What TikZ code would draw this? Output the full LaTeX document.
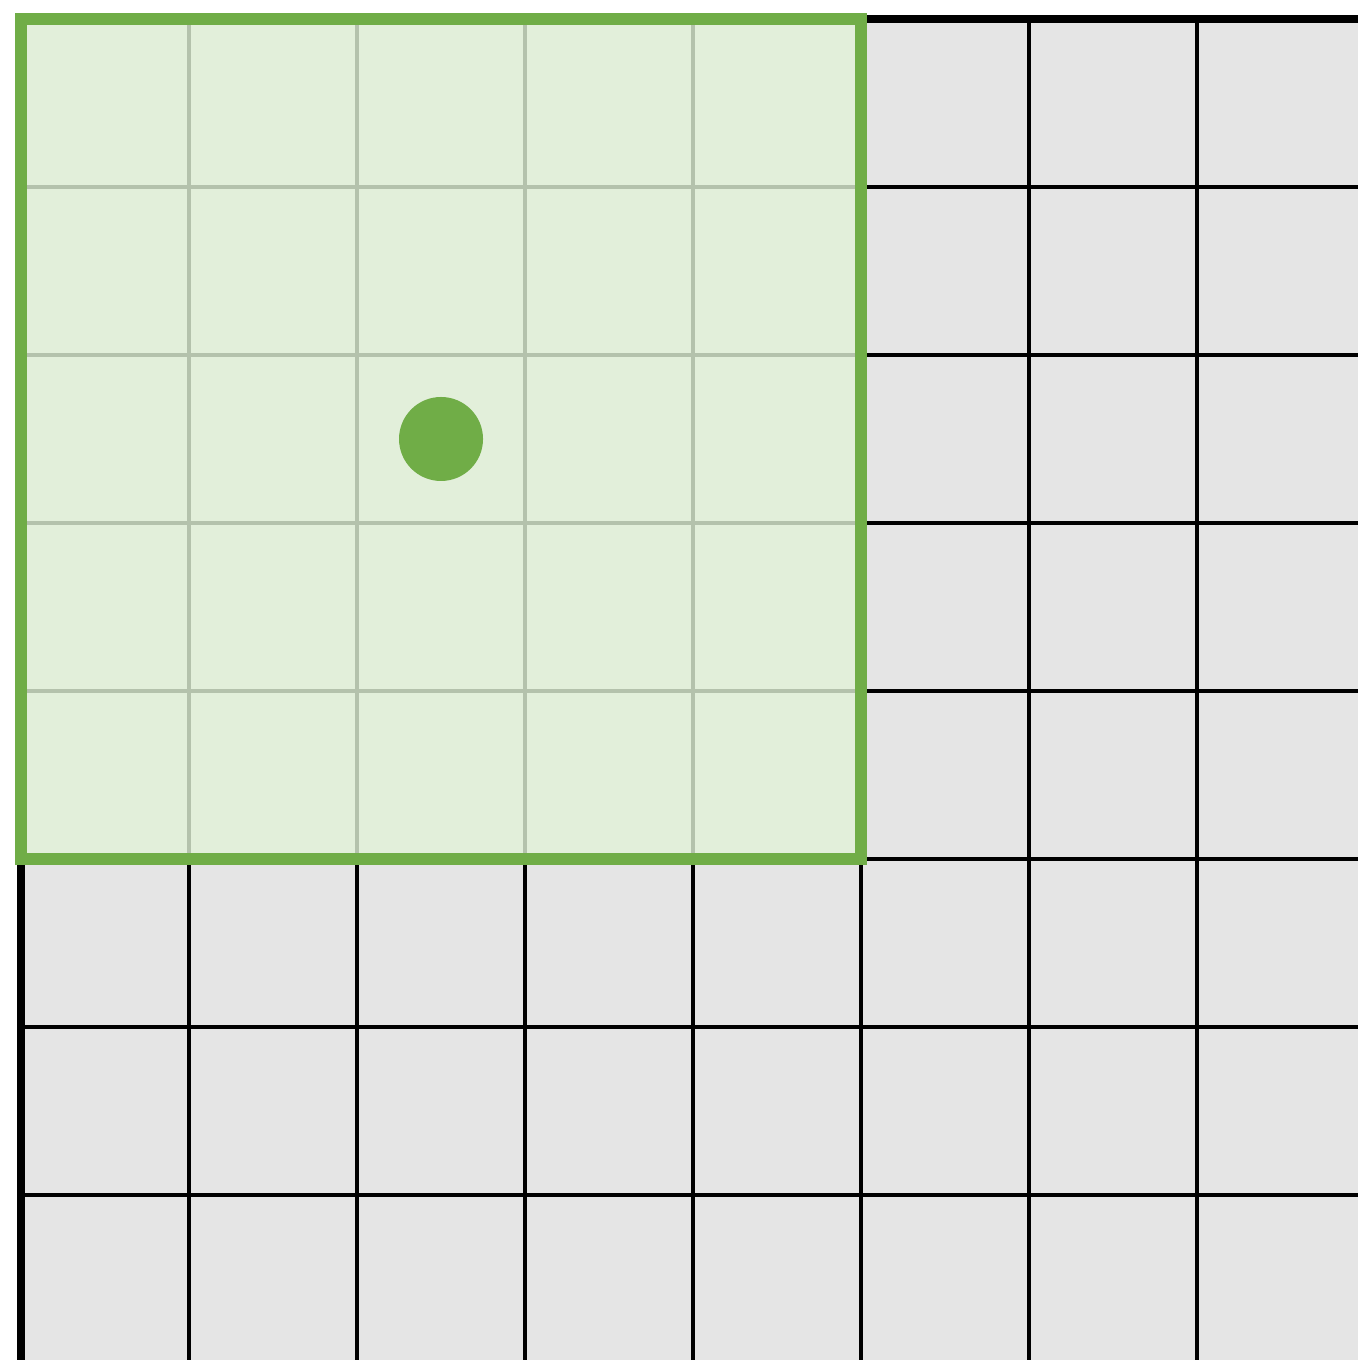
\documentclass[tikz,border=0pt]{standalone}
\definecolor{cgray}{HTML}{E5E5E5}
\definecolor{cgreen}{HTML}{70AD47}
\definecolor{clightgreen}{HTML}{E2EFDA}
\definecolor{cgridgreen}{HTML}{B4C2AC}
\begin{document}
\begin{tikzpicture}[x=1cm,y=-1cm,
    gridline/.style={line width=0.7pt},
    windowline/.style={cgridgreen,line width=0.7pt}]
  \useasboundingbox (-0.125,-0.113) rectangle (7.958,7.982);
  \clip (-0.125,-0.113) rectangle (7.958,7.982);
  % cells
  \fill[cgray] (0,0) rectangle (8.5,8.5);
  \foreach \i in {1,...,8}
    {\draw[gridline] (\i,0) -- (\i,8.5);
     \draw[gridline] (0,\i) -- (8.5,\i);}
  % border
  \draw[line width=1.5pt] (0,8.5) -- (0,0) -- (8.5,0);
  % window
  \fill[clightgreen] (0,0) rectangle (5,5);
  \foreach \i in {1,...,4}
    {\draw[windowline] (\i,0) -- (\i,5);
     \draw[windowline] (0,\i) -- (5,\i);}
  \draw[cgreen,line width=2pt] (0,0) rectangle (5,5);
  % centre
  \fill[cgreen] (2.5,2.5) circle (0.25);
\end{tikzpicture}
\end{document}
